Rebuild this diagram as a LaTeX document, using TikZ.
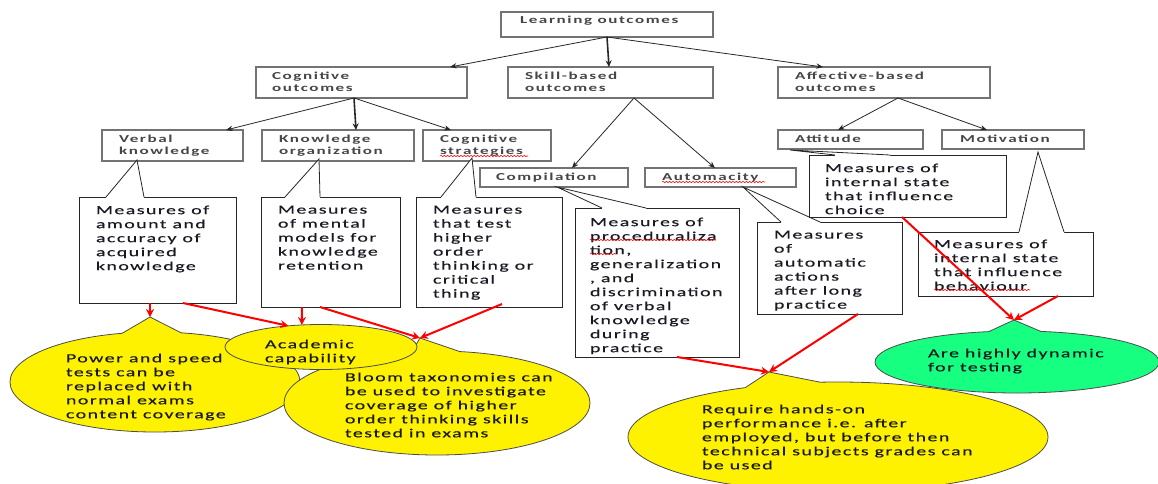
\documentclass[tikz,border=0pt]{standalone}
\usepackage{fontspec}
\setmainfont{Carlito}[FakeStretch=1.6,LetterSpace=12,FakeBold=0.35]
\newfontfamily\lblfont{Carlito}[FakeStretch=1.6,LetterSpace=15]
\usetikzlibrary{shapes.geometric,arrows.meta,calc,fit,decorations.pathmorphing}
\definecolor{lblc}{RGB}{70,70,70}
\definecolor{txtc}{RGB}{25,25,35}
\definecolor{ygreen}{RGB}{22,255,128}
\newcommand\callptr[3]{%
  \fill[white] (#1) -- (#2) -- ($(#2)+(0,2)$) -- ($(#3)+(0,2)$) -- (#3) -- cycle;
  \draw[cline] (#2) -- (#1) -- (#3);}
\newcommand\ellptr[4]{%
  \fill[#4] (#1) -- (#2) -- ($(#2)+(0,3)$) -- ($(#3)+(0,3)$) -- (#3) -- cycle;
  \draw[eline] (#2) -- (#1) -- (#3);}
\begin{document}
\begin{tikzpicture}[x=0.75pt,y=-0.75pt,
  every node/.style={inner sep=0pt,outer sep=0pt},
  lblbox/.style={rectangle,draw=black!55,line width=0.9pt,fill=white},
  lbl/.style={anchor=north west,align=left,text=lblc,yshift=-1.5pt,font=\lblfont\bfseries\fontsize{8}{9}\selectfont},
  cbox/.style={rectangle,draw=black!85,line width=0.6pt,fill=white},
  cline/.style={draw=black!85,line width=0.6pt},
  ctext/.style={anchor=north west,align=left,text=txtc,yshift=-2pt,font=\fontsize{9.3}{10.5}\selectfont},
  ell/.style={ellipse,draw=black!70,line width=0.6pt},
  eline/.style={draw=black!70,line width=0.6pt},
  barrow/.style={-{Stealth[length=5pt,width=4pt]},line width=0.6pt,black!85},
  bbarrow/.style={-{Stealth[length=5pt,width=4.5pt]},line width=1.2pt,black!85},
  rarrow/.style={-{Stealth[length=6pt,width=6pt]},line width=1.5pt,red},
  wave/.style={red,line width=0.4pt,decorate,decoration={snake,segment length=2.5pt,amplitude=0.55pt}}]
\useasboundingbox (0,0) rectangle (1158,483);
\clip (0,0) rectangle (1158,483);

% ---------- label boxes ----------
\node[lblbox,fit={(501,12) (713,37)}] (lo) {};
\node[lbl] (lot) at (520,14) {Learning outcomes};
\node[lblbox,fit={(256,67) (467,98)}] (cog) {};
\node[lbl] (cogt) at (272,70) {Cognitive\\outcomes};
\node[lblbox,fit={(508,67) (713,98)}] (skl) {};
\node[lbl] (sklt) at (525,70) {Skill-based\\outcomes};
\node[lblbox,fit={(778,67) (990,98)}] (aff) {};
\node[lbl] (afft) at (795,70) {Affective-based\\outcomes};
\node[lblbox,fit={(102,130) (243,161)}] (vk) {};
\node[lbl] (vkt) at (119,133) {Verbal\\knowledge};
\node[lblbox,fit={(262,130) (414,161)}] (ko) {};
\node[lbl] (kot) at (279,133) {Knowledge\\organization};
\node[lblbox,fit={(423,130) (551,161)}] (cs) {};
\node[lbl] (cst) at (440,133) {Cognitive\\strategies};
\node[lblbox,fit={(480,168) (628,187)}] (cmp) {};
\node[lbl] (cmpt) at (496,171) {Compilation};
\node[lblbox,fit={(645,168) (796,187)}] (aut) {};
\node[lbl] (autt) at (662,171) {Automacity};
\node[lblbox,fit={(778,130) (923,149)}] (att) {};
\node[lbl] (attt) at (795,133) {Attitude};
\node[lblbox,fit={(942,130) (1084,149)}] (mot) {};
\node[lbl] (mott) at (960,133) {Motivation};

% ---------- black arrows ----------
\coordinate (los) at (607,37);
\coordinate (cogn) at (450,67);
\coordinate (skln) at (609,67);
\coordinate (affn) at (823,67);
\draw[barrow] (los) -- (cogn);
\draw[bbarrow] (los) -- (skln);
\draw[barrow] (los) -- (affn);
\coordinate (cogs) at (354,98);
\coordinate (vkn) at (226,130);
\coordinate (kon) at (356,130);
\coordinate (csn) at (451,130);
\draw[barrow] (cogs) -- (vkn);
\draw[bbarrow] (cogs) -- (kon);
\draw[barrow] (cogs) -- (csn);
\coordinate (skls) at (634,98);
\coordinate (cmpn) at (572,168);
\coordinate (autn) at (715,168);
\draw[barrow] (skls) -- (cmpn);
\draw[barrow] (skls) -- (autn);
\coordinate (affs) at (898,98);
\coordinate (attn) at (838,130);
\coordinate (motn) at (987,130);
\draw[barrow] (affs) -- (attn);
\draw[barrow] (affs) -- (motn);

% ---------- callouts ----------
\node[cbox,fit={(79,197) (236,303)}] (c1) {};
\coordinate (t1) at (137,160); \coordinate (b1a) at (106,197); \coordinate (b1b) at (144,197);
\callptr{t1}{b1a}{b1b}
\node[ctext] (c1t) at (96,203) {Measures of\\amount and\\accuracy of\\acquired\\knowledge};

\node[cbox,fit={(261,197) (400,307)}] (c2) {};
\coordinate (t2) at (319,159); \coordinate (b2a) at (285,197); \coordinate (b2b) at (320,197);
\callptr{t2}{b2a}{b2b}
\node[ctext] (c2t) at (278,203) {Measures\\of mental\\models for\\knowledge\\retention};

\node[cbox,fit={(416,197) (562,307)}] (c3) {};
\coordinate (t3) at (472,158); \coordinate (b3a) at (441,197); \coordinate (b3b) at (476,197);
\callptr{t3}{b3a}{b3b}
\node[ctext] (c3t) at (433,203) {Measures\\that test\\higher\\order\\thinking or\\critical\\thing};

\node[cbox,fit={(575,208) (739,357)}] (c4) {};
\coordinate (t4) at (557,187); \coordinate (b4a) at (602,208); \coordinate (b4b) at (646,208);
\callptr{t4}{b4a}{b4b}
\node[ctext] (c4t) at (590,215) {Measures of\\proceduraliza\\tion,\\generalization\\, and\\discrimination\\of verbal\\knowledge\\during\\practice};

\node[cbox,fit={(757,222) (902,314)}] (c5) {};
\coordinate (t5) at (743,187); \coordinate (b5a) at (781,222); \coordinate (b5b) at (820,222);
\callptr{t5}{b5a}{b5b}
\node[ctext] (c5t) at (774,228) {Measures\\of\\automatic\\actions\\after long\\practice};

\node[cbox,fit={(809,155) (1006,217)}] (c6) {};
\coordinate (t6) at (790,150); \coordinate (b6a) at (835,155); \coordinate (b6b) at (890,155);
\callptr{t6}{b6a}{b6b}
\node[ctext] (c6t) at (825,161) {Measures of\\internal state\\that influence\\choice};

\node[cbox,fit={(918,232) (1093,296)}] (c7) {};
\coordinate (t7) at (1038,152); \coordinate (b7a) at (1019,232); \coordinate (b7b) at (1064,232);
\callptr{t7}{b7a}{b7b}
\node[ctext] (c7t) at (934,237) {Measures of\\internal state\\that influence\\behaviour};

% ---------- ellipses ----------
\node[ell,fill=yellow,minimum width=217.5pt,minimum height=75pt] (pow) at (155,382) {};
\coordinate (powtip) at (150,317);
\ellptr{powtip}{pow.124}{pow.62}{yellow}
\node[ctext] (powt) at (66,351) {Power and speed\\tests can be\\replaced with\\normal exams\\content coverage};

\node[ell,fill=yellow,minimum width=229.5pt,minimum height=78pt] (blo) at (437,403) {};
\coordinate (blotip) at (420,338);
\ellptr{blotip}{blo.116}{blo.66}{yellow}
\node[ctext] (blot) at (345,370) {Bloom taxonomies can\\be used to investigate\\coverage of higher\\order thinking skills\\tested in exams};

\node[ell,fill=yellow,minimum width=144pt,minimum height=33.75pt] (aca) at (321,347) {};
\node[ctext] (acat) at (265,337) {Academic\\capability};

\node[ell,fill=yellow,minimum width=315pt,minimum height=82.5pt] (req) at (838,437) {};
\coordinate (reqtip) at (769,372);
\ellptr{reqtip}{req.152}{req.108}{yellow}
\node[ctext] (reqt) at (702,402) {Require hands-on\\performance i.e. after\\employed, but before then\\technical subjects grades can\\be used};

\node[ell,fill=ygreen,minimum width=213pt,minimum height=46.5pt] (grn) at (1017,362) {};
\coordinate (grntip) at (1014,320);
\ellptr{grntip}{grn.133}{grn.52}{ygreen}
\node[ctext] (grnt) at (928,346) {Are highly dynamic\\for testing};

% ---------- red arrows ----------
\coordinate (r1) at (150,303);
\coordinate (r2) at (183,303);
\coordinate (r3) at (302,307);
\coordinate (r4) at (320,307);
\coordinate (r5) at (502,304);
\coordinate (r6) at (677,357);
\coordinate (r7) at (858,314);
\coordinate (r8) at (902,217);
\coordinate (r9) at (1058,296);
\draw[rarrow] (r1) -- (powtip);
\draw[rarrow] (r2) -- (aca.147);
\draw[rarrow] (r3) -- (aca.131);
\draw[rarrow] (r4) -- (blotip);
\draw[rarrow] (r5) -- (blotip);
\draw[rarrow] (r6) -- (reqtip);
\draw[rarrow] (r7) -- (reqtip);
\draw[rarrow] (r8) -- (grntip);
\draw[rarrow] (r9) -- (grntip);

% ---------- spelling waves ----------
\coordinate (w1a) at (440,156); \coordinate (w1b) at (528,156);
\coordinate (w2a) at (662,182); \coordinate (w2b) at (765,182);
\coordinate (w3a) at (590,240); \coordinate (w3b) at (716,240);
\coordinate (w4a) at (590,254); \coordinate (w4b) at (616,254);
\coordinate (w5a) at (934,290); \coordinate (w5b) at (1030,290);
\draw[wave] (w1a) -- (w1b);
\draw[wave] (w2a) -- (w2b);
\draw[wave] (w3a) -- (w3b);
\draw[wave] (w4a) -- (w4b);
\draw[wave] (w5a) -- (w5b);
\end{tikzpicture}
\end{document}
